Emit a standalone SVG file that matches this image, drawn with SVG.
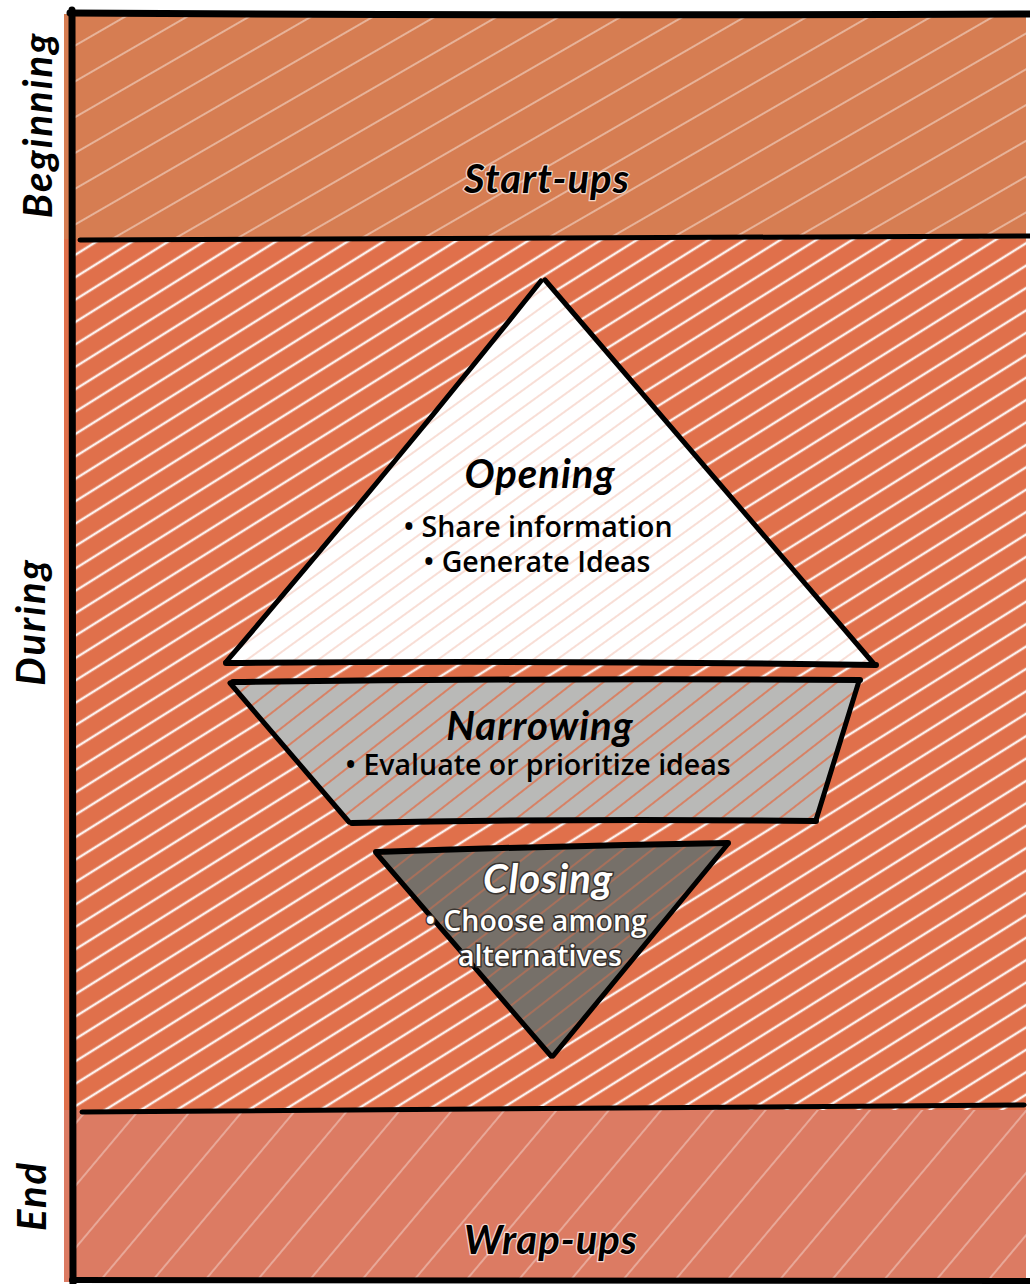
<svg xmlns="http://www.w3.org/2000/svg" width="1030" height="1284" viewBox="0 0 1030 1284">
  <defs>
    <!-- hachure strokes -->
    <pattern id="hatch-dense" patternUnits="userSpaceOnUse" width="60" height="19" patternTransform="rotate(-32)">
      <line x1="0" y1="9" x2="60" y2="9" stroke="#ffffff" stroke-width="2.6" stroke-opacity="0.9"/>
    </pattern>
    <pattern id="hatch-sparse" patternUnits="userSpaceOnUse" width="60" height="31" patternTransform="rotate(-30)">
      <line x1="0" y1="15" x2="60" y2="15" stroke="#ffffff" stroke-width="1.6" stroke-opacity="0.55"/>
    </pattern>
    <pattern id="hatch-end" patternUnits="userSpaceOnUse" width="60" height="40" patternTransform="rotate(-50)">
      <line x1="0" y1="20" x2="60" y2="20" stroke="#ffffff" stroke-width="1.4" stroke-opacity="0.45"/>
    </pattern>
    <pattern id="hatch-orange" patternUnits="userSpaceOnUse" width="60" height="14" patternTransform="rotate(-36)">
      <line x1="0" y1="7" x2="60" y2="7" stroke="#e0704b" stroke-width="1.2" stroke-opacity="0.45"/>
    </pattern>
    <pattern id="hatch-orange-strong" patternUnits="userSpaceOnUse" width="60" height="18" patternTransform="rotate(-38)">
      <line x1="0" y1="9" x2="60" y2="9" stroke="#e0704b" stroke-width="2.2" stroke-opacity="0.75"/>
    </pattern>
    <style>
      .ink { fill: none; stroke: #000; stroke-linecap: round; stroke-linejoin: round; }
      .hand { font-family: "Lato", "Noto Sans", sans-serif; font-style: italic; font-weight: 700; font-size: 40px; letter-spacing: 1px; text-anchor: middle; fill: #000; }
      .body { font-family: "Open Sans", "Noto Sans", sans-serif; font-weight: 600; font-size: 28.5px; text-anchor: middle; fill: #000; }
      .halo { paint-order: stroke; stroke: #ffffff; stroke-width: 2.5px; stroke-opacity: 0.7; }
      .dark { fill: #ffffff; paint-order: stroke; stroke: #3a3430; stroke-width: 3px; }
      .side { font-family: "Lato", "Noto Sans", sans-serif; font-style: italic; font-weight: 700; font-size: 40px; letter-spacing: 2px; text-anchor: middle; fill: #000; }
    </style>
  </defs>

  <rect width="1030" height="1284" fill="#ffffff"/>

  <!-- Beginning band -->
  <g id="band-beginning">
    <rect x="64" y="14" width="962" height="226" fill="#d67d52"/>
    <rect x="74" y="14" width="952" height="226" fill="url(#hatch-sparse)"/>
    <text class="hand halo" x="547" y="193">Start-ups</text>
  </g>

  <!-- During band -->
  <g id="band-during">
    <rect x="64" y="239" width="962" height="872" fill="#e0704b"/>
    <rect x="74" y="239" width="952" height="872" fill="url(#hatch-dense)"/>
  </g>

  <!-- End band -->
  <g id="band-end">
    <rect x="64" y="1110" width="962" height="172" fill="#dc7b63"/>
    <rect x="74" y="1110" width="952" height="172" fill="url(#hatch-end)"/>
    <text class="hand halo" x="551" y="1254">Wrap-ups</text>
  </g>

  <!-- Opening stage -->
  <g id="node-opening">
    <path d="M543 279 L876 665 L225 663 Z" fill="#ffffff"/>
    <path d="M543 279 L876 665 L225 663 Z" fill="url(#hatch-orange)"/>
    <path class="ink" stroke-width="5" d="M541 281 Q390 470 226 662"/>
    <path class="ink" stroke-width="5" d="M545 280 Q700 460 874 664"/>
    <path class="ink" stroke-width="6" d="M226 663 Q550 660 876 665"/>
    <text class="hand" x="540" y="488">Opening</text>
    <text class="body" x="538" y="537">• Share information</text>
    <text class="body" x="537" y="572">• Generate Ideas</text>
  </g>

  <!-- Narrowing stage -->
  <g id="node-narrowing">
    <path d="M232 682 L860 680 L816 820 L350 823 Z" fill="#b9b9b7"/>
    <path d="M232 682 L860 680 L816 820 L350 823 Z" fill="url(#hatch-orange-strong)"/>
    <path class="ink" stroke-width="6" d="M233 682 Q540 678 860 680"/>
    <path class="ink" stroke-width="5" d="M230 683 L349 822"/>
    <path class="ink" stroke-width="5" d="M859 681 L816 820"/>
    <path class="ink" stroke-width="6" d="M352 823 Q580 818 816 821"/>
    <text class="hand" x="540" y="740">Narrowing</text>
    <text class="body" x="538" y="775">• Evaluate or prioritize ideas</text>
  </g>

  <!-- Closing stage -->
  <g id="node-closing">
    <path d="M376 852 L728 843 L552 1057 Z" fill="#767069"/>
    <path d="M376 852 L728 843 L552 1057 Z" fill="url(#hatch-orange-strong)" opacity="0.6"/>
    <path class="ink" stroke-width="6" d="M376 852 Q550 846 728 843"/>
    <path class="ink" stroke-width="5" d="M377 854 L551 1056"/>
    <path class="ink" stroke-width="5" d="M727 845 L553 1056"/>
    <text class="hand dark" x="548" y="893">Closing</text>
    <text class="body dark" x="536" y="931">• Choose among</text>
    <text class="body dark" x="540" y="966">alternatives</text>
  </g>

  <!-- frame and band dividers -->
  <g id="connectors">
    <path class="ink" stroke-width="7" d="M72 10 L73 1284"/>
    <path class="ink" stroke-width="7" d="M70 13 Q550 16 1030 14"/>
    <path class="ink" stroke-width="5" d="M80 240 Q550 238 1030 236"/>
    <path class="ink" stroke-width="5" d="M82 1112 Q550 1110 1024 1105"/>
    <path class="ink" stroke-width="6" d="M72 1280 Q550 1279 1030 1281"/>
  </g>

  <!-- phase labels -->
  <g id="phase-labels">
    <text class="side" transform="translate(52 125) rotate(-90)">Beginning</text>
    <text class="side" transform="translate(45 622) rotate(-90)">During</text>
    <text class="side" transform="translate(46 1196) rotate(-90)">End</text>
  </g>
</svg>
